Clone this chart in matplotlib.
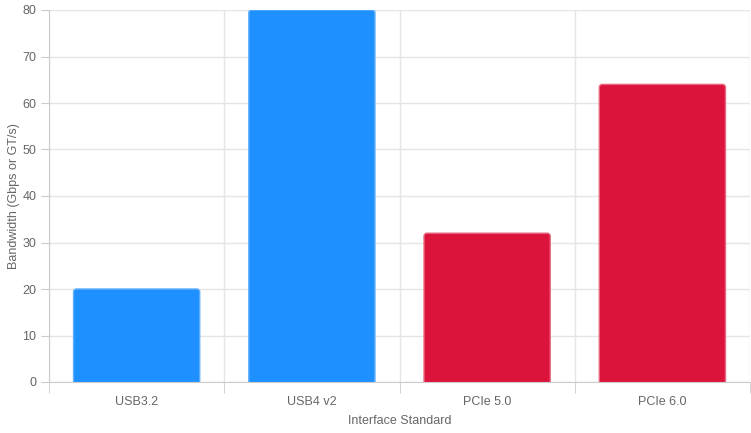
import matplotlib
matplotlib.use("Agg")
import matplotlib.pyplot as plt
from matplotlib.patches import FancyBboxPatch

categories = ["USB3.2", "USB4 v2", "PCIe 5.0", "PCIe 6.0"]
values = [20, 80, 32, 64]
colors = ["#1E90FF", "#1E90FF", "#DC143C", "#DC143C"]
edges = ["#5FB0FF", "#5FB0FF", "#E8677F", "#E8677F"]
yticks = [0, 10, 20, 30, 40, 50, 60, 70, 80]

plt.rcParams['font.family'] = ['Liberation Sans', 'DejaVu Sans']

W, H = 751, 433
fig = plt.figure(figsize=(W / 100, H / 100), dpi=100)
L, R, T, B = 49, 750, 10, 382
ax = fig.add_axes([L / W, 1 - B / H, (R - L) / W, (B - T) / H])

ax.set_xlim(-0.5, len(categories) - 0.5)
ax.set_ylim(0, 80)

px_x = (R - L) / len(categories)  # px per x unit
px_y = (B - T) / 80.0             # px per y unit
bw = 0.72
rad = 3.0 / px_x
aspect = px_x / px_y
for i, (v, c, e) in enumerate(zip(values, colors, edges)):
    ext = 4.0 / px_y
    p = FancyBboxPatch((i - bw / 2 + rad, -ext + rad * aspect),
                       bw - 2 * rad, v + ext - 2 * rad * aspect,
                       boxstyle=f"round,pad={rad}",
                       mutation_aspect=aspect,
                       facecolor=c, edgecolor=e, linewidth=1.0, zorder=3)
    ax.add_patch(p)

ax.set_yticks(yticks)
ax.set_xticks(range(len(categories)))
ax.set_xticklabels(categories)
ax.set_xticks([i - 0.5 for i in range(len(categories) + 1)], minor=True)

ax.grid(False)
for y in yticks:
    ax.axhline(y, color="#e5e5e5", lw=1, zorder=1)
for x in [i - 0.5 for i in range(len(categories) + 1)]:
    ax.axvline(x, color="#e5e5e5", lw=1, zorder=1)

for s in ["top", "right"]:
    ax.spines[s].set_visible(False)
for s in ["left", "bottom"]:
    ax.spines[s].set_color("#cccccc")
    ax.spines[s].set_zorder(4)

ax.tick_params(axis="y", which="major", length=6, color="#cccccc", labelcolor="#666666", labelsize=9, pad=3)
ax.tick_params(axis="x", which="major", length=0, labelcolor="#666666", labelsize=9, pad=10)
ax.tick_params(axis="x", which="minor", length=8, color="#cccccc")

ax.set_xlabel("Interface Standard", color="#666666", fontsize=9, labelpad=5)
ax.set_ylabel("Bandwidth (Gbps or GT/s)", color="#666666", fontsize=9, labelpad=2)

fig.savefig("out.png", dpi=100)
